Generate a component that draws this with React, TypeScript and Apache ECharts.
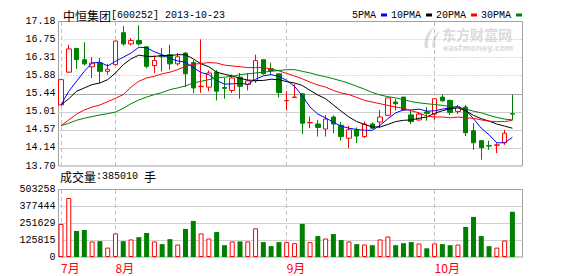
import React, { useEffect, useRef } from 'react';
import * as echarts from 'echarts';

// ---- data ----
const dates = [
  '2013-07-23', '2013-07-24', '2013-07-25', '2013-07-26', '2013-07-29', '2013-07-30', '2013-07-31',
  '2013-08-01', '2013-08-02', '2013-08-05', '2013-08-06', '2013-08-07', '2013-08-08', '2013-08-09',
  '2013-08-12', '2013-08-13', '2013-08-14', '2013-08-15', '2013-08-16', '2013-08-19', '2013-08-20',
  '2013-08-21', '2013-08-22', '2013-08-23', '2013-08-26', '2013-08-27', '2013-08-28', '2013-08-29',
  '2013-08-30',
  '2013-09-02', '2013-09-03', '2013-09-04', '2013-09-05', '2013-09-06', '2013-09-09', '2013-09-10',
  '2013-09-11', '2013-09-12', '2013-09-13', '2013-09-16', '2013-09-17', '2013-09-18', '2013-09-23',
  '2013-09-24', '2013-09-25', '2013-09-26', '2013-09-27', '2013-09-30',
  '2013-10-09', '2013-10-10', '2013-10-11', '2013-10-14', '2013-10-15', '2013-10-16', '2013-10-17',
  '2013-10-18', '2013-10-21', '2013-10-22', '2013-10-23',
];

const opens = [
  15.17, 15.96, 16.53, 16.26, 16.09, 16.18, 15.98, 16.14, 16.91, 16.64,
  16.72, 16.57, 16.12, 16.36, 16.38, 16.16, 16.42, 16.19, 15.61, 15.60,
  15.96, 15.59, 15.52, 15.84, 15.66, 15.75, 16.26, 16.04, 15.92, 15.27,
  15.35, 15.44, 14.74, 14.71, 14.59, 14.88, 14.68, 14.37, 14.57, 14.41,
  14.71, 14.76, 14.92, 15.24, 15.36, 14.93, 14.81, 15.00, 14.95, 15.36,
  15.28, 15.01, 15.12, 14.55, 14.31, 14.19, 14.20, 14.26, 14.96,
];
const closes = [
  15.78, 16.52, 16.26, 16.16, 16.18, 15.98, 16.03, 16.71, 16.64, 16.72,
  16.64, 16.10, 16.24, 16.33, 16.16, 16.33, 15.92, 15.58, 15.62, 15.94,
  15.50, 15.57, 15.82, 15.62, 15.75, 16.24, 15.92, 16.00, 15.47, 15.28,
  15.36, 14.73, 14.75, 14.63, 14.83, 14.71, 14.41, 14.57, 14.42, 14.71,
  14.61, 14.88, 15.34, 15.20, 15.05, 14.77, 14.95, 14.97, 15.32, 15.27,
  14.99, 15.12, 14.50, 14.26, 14.14, 14.18, 14.21, 14.49, 14.95,
];
const lows = [
  15.17, 15.94, 16.04, 16.12, 15.82, 15.70, 15.90, 16.12, 16.60, 16.60,
  16.60, 16.05, 15.94, 15.98, 16.02, 16.12, 15.60, 15.46, 15.46, 15.50,
  15.28, 15.32, 15.46, 15.32, 15.52, 15.70, 15.90, 15.90, 15.35, 15.04,
  15.34, 14.47, 14.61, 14.41, 14.41, 14.49, 14.31, 14.13, 14.25, 14.37,
  14.59, 14.61, 14.90, 15.04, 15.03, 14.71, 14.79, 14.79, 14.81, 15.25,
  14.93, 14.95, 14.42, 14.09, 13.85, 14.09, 14.01, 14.21, 14.81,
];
const highs = [
  15.78, 16.62, 16.55, 16.68, 16.32, 16.30, 16.16, 16.72, 17.07, 16.78,
  17.09, 16.58, 16.36, 16.54, 16.62, 16.42, 16.44, 16.25, 16.75, 16.00,
  16.01, 15.82, 15.90, 15.94, 15.94, 16.38, 16.26, 16.19, 15.92, 15.50,
  15.68, 15.44, 14.89, 14.81, 14.93, 14.92, 14.76, 14.67, 14.63, 14.77,
  14.75, 15.05, 15.34, 15.32, 15.36, 15.04, 14.99, 15.12, 15.33, 15.42,
  15.30, 15.17, 15.17, 14.73, 14.31, 14.31, 14.25, 14.57, 15.42,
];

const volumes = [
  246600, 440000, 194000, 201000, 116000, 118000, 70000, 176000, 118000, 131000,
  148000, 179000, 116000, 96000, 133000, 93000, 209000, 269000, 176000, 138000,
  186000, 88000, 116000, 116000, 116000, 214000, 111000, 81000, 111000, 111000,
  103000, 247000, 111000, 156000, 138000, 171000, 126000, 116000, 96000, 93000,
  88000, 131000, 153000, 88000, 103000, 111000, 101000, 65000, 101000, 96000,
  88000, 93000, 224000, 299000, 156000, 81000, 70000, 123000, 337000,
];

const ma5 = [
  15.17, 15.50, 15.74, 15.98, 16.18, 16.20, 16.11, 16.22, 16.32, 16.42,
  16.56, 16.55, 16.45, 16.38, 16.29, 16.23, 16.20, 16.07, 15.95, 15.90,
  15.76, 15.67, 15.68, 15.69, 15.67, 15.79, 15.87, 15.90, 15.86, 15.76,
  15.62, 15.39, 15.12, 14.95, 14.86, 14.75, 14.66, 14.61, 14.58, 14.56,
  14.56, 14.68, 14.84, 14.98, 15.05, 15.05, 15.07, 15.02, 15.03, 15.07,
  15.10, 15.13, 15.05, 14.84, 14.61, 14.45, 14.26, 14.26, 14.39,
];
const ma10 = [
  15.17, 15.32, 15.50, 15.58, 15.66, 15.70, 15.78, 15.94, 16.14, 16.28,
  16.37, 16.34, 16.34, 16.36, 16.36, 16.38, 16.38, 16.28, 16.16, 16.09,
  15.96, 15.91, 15.87, 15.81, 15.77, 15.76, 15.76, 15.79, 15.78, 15.73,
  15.70, 15.64, 15.52, 15.41, 15.32, 15.17, 15.02, 14.88, 14.77, 14.70,
  14.64, 14.64, 14.70, 14.77, 14.80, 14.81, 14.85, 14.88, 14.97, 15.03,
  15.08, 15.10, 15.03, 14.92, 14.84, 14.78, 14.71, 14.66, 14.61,
];
const ma20 = [
  14.67, 14.81, 14.95, 15.05, 15.12, 15.17, 15.25, 15.33, 15.42, 15.60,
  15.74, 15.82, 15.86, 15.92, 15.96, 16.02, 16.10, 16.15, 16.17, 16.19,
  16.18, 16.13, 16.11, 16.09, 16.07, 16.07, 16.07, 16.04, 15.99, 15.93,
  15.87, 15.80, 15.72, 15.65, 15.60, 15.52, 15.46, 15.42, 15.35, 15.28,
  15.24, 15.20, 15.16, 15.12, 15.09, 15.03, 14.98, 14.90, 14.88, 14.88,
  14.86, 14.88, 14.86, 14.85, 14.81, 14.78, 14.77, 14.77, 14.80,
];
const ma30 = [
  14.67, 14.73, 14.80, 14.85, 14.89, 14.93, 14.96, 15.00, 15.09, 15.20,
  15.29, 15.36, 15.42, 15.47, 15.54, 15.58, 15.63, 15.70, 15.74, 15.78,
  15.82, 15.84, 15.86, 15.90, 15.92, 15.94, 15.96, 15.98, 16.00, 16.02,
  16.02, 15.98, 15.94, 15.89, 15.85, 15.80, 15.75, 15.69, 15.62, 15.55,
  15.47, 15.41, 15.37, 15.34, 15.30, 15.25, 15.22, 15.20, 15.18, 15.16,
  15.13, 15.11, 15.07, 15.02, 14.98, 14.92, 14.87, 14.83, 14.81,
];

const priceTickLabels = ['13.70', '14.14', '14.57', '15.01', '15.44', '15.88', '16.31', '16.75', '17.18'];
const volumeTickLabels = ['0', '125815', '251629', '377444', '503258'];
const monthTickIndex = [0, 7, 29, 48];
const monthTickLabels = ['7月', '8月', '9月', '10月'];
const priceMin = 13.70;
const priceMax = 17.18;
const volumeMax = 503258;

const RED = '#ff0000';
const GREEN = '#008000';
const MONO = "'Liberation Mono', 'DejaVu Sans Mono', monospace";
const CJK = "'Noto Sans CJK SC', sans-serif";

const LOGO_PATH =
  'M15 0 C7 5 2 13 4 23 L8 24 C6 16 9 8 15 0 Z M20 5 C14 9 11 15 12 23 L15 23 C14 17 16 11 20 5 Z';

export default function App() {
  const ref = useRef<HTMLDivElement>(null);

  useEffect(() => {
    if (!ref.current) return;
    try {
      echarts.graphic.registerShape('logo', echarts.graphic.extendPath(LOGO_PATH, {}) as any);
    } catch (e) {
      /* already registered */
    }
    const chart = echarts.init(ref.current, null, { renderer: 'svg' });

    const candleData = dates.map((_, i) => [opens[i], closes[i], lows[i], highs[i]]);
    const volData = volumes.map((v, i) => {
      const up = closes[i] >= opens[i];
      return {
        value: v,
        itemStyle: up
          ? { color: '#ffffff', borderColor: RED, borderWidth: 1 }
          : { color: GREEN, borderColor: GREEN, borderWidth: 0 },
      };
    });
    const monthLines = monthTickIndex.map((i) => ({ xAxis: dates[i] }));
    const markLine = {
      silent: true,
      symbol: ['none', 'none'],
      label: { show: false },
      lineStyle: { color: '#c0c0c0', type: [4, 3] as any, width: 1 },
      data: monthLines,
      z: 1,
    };

    const frameLeft = 58.5;
    const frameWidth = 464;
    const dataLeft = 57.1;
    const dataWidth = 459.2;
    const pTop = 21.5;
    const pHeight = 144.5;
    const vTop = 189.5;
    const vHeight = 67.5;

    const maLine = (name: string, data: number[], color: string) => ({
      name,
      type: 'line',
      xAxisIndex: 1,
      yAxisIndex: 2,
      data,
      symbol: 'none',
      showSymbol: false,
      color,
      lineStyle: { color, width: 1 },
      z: 3,
      silent: true,
    });

    const T = 'transparent';
    const G = '#d0d0d0';

    const option: any = {
      animation: false,
      backgroundColor: '#ffffff',
      legend: {
        data: ['5PMA', '10PMA', '20PMA', '30PMA'],
        left: 352,
        top: 9,
        icon: 'rect',
        itemWidth: 6,
        itemHeight: 3,
        itemGap: 4,
        align: 'right',
        selectedMode: false,
        padding: 0,
        textStyle: { fontFamily: MONO, fontSize: 10, color: '#000', lineHeight: 12 },
      },
      grid: [
        { left: frameLeft, top: pTop, width: frameWidth, height: pHeight, show: true, borderColor: '#a0a0a0', borderWidth: 1, backgroundColor: 'transparent' },
        { left: dataLeft, top: pTop, width: dataWidth, height: pHeight },
        { left: frameLeft, top: vTop, width: frameWidth, height: vHeight, show: true, borderColor: '#a0a0a0', borderWidth: 1, backgroundColor: 'transparent' },
        { left: dataLeft, top: vTop, width: dataWidth, height: vHeight },
      ],
      xAxis: [
        { gridIndex: 0, type: 'value', min: 0, max: 1, show: false },
        { gridIndex: 1, type: 'category', data: dates, show: false, boundaryGap: true },
        { gridIndex: 2, type: 'value', min: 0, max: 1, show: false },
        {
          gridIndex: 3,
          type: 'category',
          data: dates,
          boundaryGap: true,
          axisLine: { show: false },
          axisTick: { show: false },
          splitLine: { show: false },
          axisLabel: {
            show: true,
            interval: (index: number) => monthTickIndex.includes(index),
            formatter: (_v: string, index: number) => monthTickLabels[monthTickIndex.indexOf(index)] ?? '',
            color: RED,
            fontSize: 12,
            fontFamily: CJK,
            align: 'left',
            margin: 4,
          },
        },
      ],
      yAxis: [
        // 0: price frame, labels + solid lines (lower half and middle)
        {
          gridIndex: 0,
          type: 'value',
          position: 'left',
          min: 0,
          max: priceTickLabels.length - 1,
          interval: 1,
          axisLine: { show: false },
          axisTick: { show: false },
          axisLabel: {
            formatter: (v: number) => priceTickLabels[Math.round(v)] ?? '',
            fontFamily: MONO,
            fontSize: 10,
            color: '#000',
            margin: 3,
          },
          splitLine: {
            show: true,
            lineStyle: { color: [T, G, G, G, '#a8a8a8', T, T, T, T], width: 1 },
          },
        },
        // 1: price frame, dotted lines (upper half)
        {
          gridIndex: 0,
          type: 'value',
          position: 'right',
          min: 0,
          max: priceTickLabels.length - 1,
          interval: 1,
          axisLine: { show: false },
          axisTick: { show: false },
          axisLabel: { show: false },
          splitLine: {
            show: true,
            lineStyle: { color: [T, T, T, T, T, '#b8b8b8', '#b8b8b8', '#b8b8b8', T], width: 1, type: [1, 2] as any },
          },
        },
        // 2: price data
        { gridIndex: 1, type: 'value', min: priceMin, max: priceMax, show: false, splitLine: { show: false } },
        // 3: volume frame
        {
          gridIndex: 2,
          type: 'value',
          min: 0,
          max: volumeTickLabels.length - 1,
          interval: 1,
          axisLine: { show: false },
          axisTick: { show: false },
          axisLabel: {
            formatter: (v: number) => volumeTickLabels[Math.round(v)] ?? '',
            fontFamily: MONO,
            fontSize: 10,
            color: '#000',
            margin: 3,
          },
          splitLine: { show: true, lineStyle: { color: [T, G, G, G, T], width: 1 } },
        },
        // 4: volume data
        { gridIndex: 3, type: 'value', min: 0, max: volumeMax, show: false, splitLine: { show: false } },
      ],
      graphic: [
        {
          type: 'text',
          x: 63,
          y: 15,
          style: {
            text: '{cn|中恒集团}{en|[600252] 2013-10-23}',
            verticalAlign: 'middle',
            rich: {
              cn: { fontFamily: CJK, fontSize: 12, fill: '#000' },
              en: { fontFamily: MONO, fontSize: 10, fill: '#000' },
            },
          },
        },
        {
          type: 'text',
          x: 60,
          y: 176,
          style: {
            text: '{cn|成交量}{en|:385010 }{cn|手}',
            verticalAlign: 'middle',
            rich: {
              cn: { fontFamily: CJK, fontSize: 12, fill: '#000' },
              en: { fontFamily: MONO, fontSize: 10, fill: '#000' },
            },
          },
        },
        {
          type: 'logo',
          x: 421,
          y: 26,
          scaleX: 0.95,
          scaleY: 0.95,
          z: -1,
          silent: true,
          style: { fill: '#dedede' },
        },
        {
          type: 'text',
          x: 442,
          y: 24,
          z: -1,
          silent: true,
          style: {
            text: '{a|东方财富网}\n{b|eastmoney.com}',
            verticalAlign: 'top',
            rich: {
              a: { fontFamily: CJK, fontSize: 14, lineHeight: 19, fontWeight: 'bold', fill: '#dcdcdc' },
              b: { fontFamily: "'DejaVu Sans', sans-serif", fontSize: 8, lineHeight: 11, fontWeight: 'bold', fill: '#dcdcdc', padding: [0, 0, 0, 1] },
            },
          },
        },
      ],
      series: [
        {
          name: 'K',
          type: 'candlestick',
          xAxisIndex: 1,
          yAxisIndex: 2,
          data: candleData,
          barWidth: 5,
          itemStyle: {
            color: '#ffffff',
            color0: GREEN,
            borderColor: RED,
            borderColor0: GREEN,
            borderWidth: 1,
          },
          markLine,
          z: 2,
          silent: true,
        },
        maLine('5PMA', ma5, '#0000ff'),
        maLine('10PMA', ma10, '#000000'),
        maLine('20PMA', ma20, RED),
        maLine('30PMA', ma30, GREEN),
        {
          name: 'VOL',
          type: 'bar',
          xAxisIndex: 3,
          yAxisIndex: 4,
          data: volData,
          barWidth: 5,
          markLine,
          silent: true,
          z: 2,
        },
      ],
    };

    chart.setOption(option);
    return () => chart.dispose();
  }, []);

  return (
    <div
      ref={ref}
      style={{ position: 'fixed', left: 0, top: 0, width: 578, height: 276, background: '#fff' }}
    />
  );
}
